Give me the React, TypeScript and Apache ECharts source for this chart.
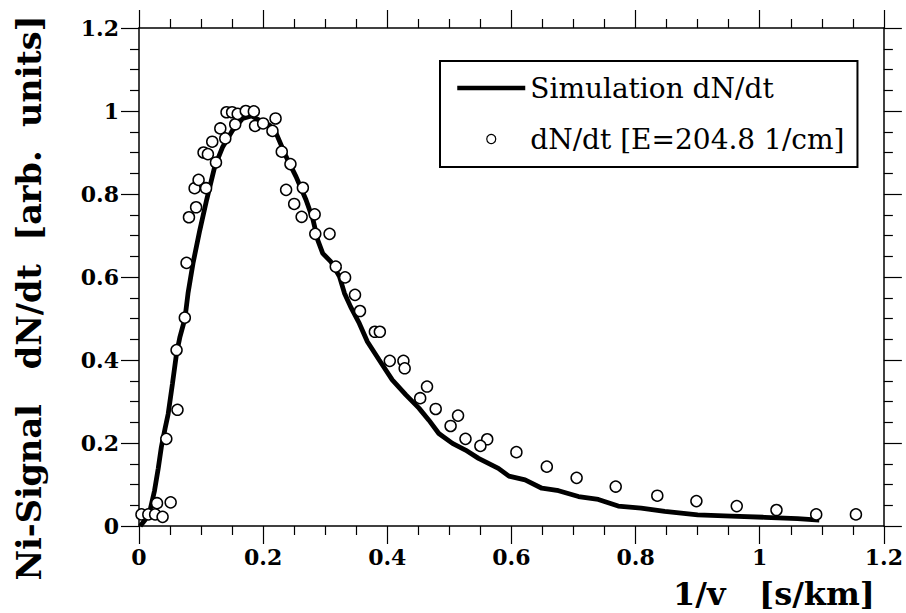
import React, { useEffect, useRef } from "react";
import * as echarts from "echarts";

// Simulation curve (1/v [s/km], dN/dt)
const simX = [0.002, 0.01, 0.018, 0.025, 0.031, 0.036, 0.042, 0.047, 0.054, 0.0605, 0.066, 0.074, 0.079, 0.087, 0.098, 0.109, 0.122, 0.135, 0.151, 0.167, 0.181, 0.194, 0.21, 0.221, 0.237, 0.253, 0.269, 0.28, 0.288, 0.296, 0.309, 0.323, 0.331, 0.341, 0.355, 0.368, 0.387, 0.408, 0.43, 0.451, 0.467, 0.483, 0.505, 0.526, 0.547, 0.579, 0.596, 0.622, 0.649, 0.676, 0.708, 0.74, 0.772, 0.809, 0.847, 0.9, 0.954, 1.008, 1.061, 1.096];
const simY = [0, 0.015, 0.039, 0.085, 0.139, 0.19, 0.235, 0.27, 0.344, 0.416, 0.456, 0.5, 0.561, 0.633, 0.713, 0.786, 0.866, 0.914, 0.954, 0.982, 0.988, 0.978, 0.966, 0.946, 0.89, 0.842, 0.786, 0.74, 0.689, 0.657, 0.637, 0.601, 0.561, 0.528, 0.488, 0.444, 0.4, 0.352, 0.316, 0.284, 0.255, 0.223, 0.199, 0.183, 0.163, 0.139, 0.12, 0.111, 0.091, 0.085, 0.071, 0.064, 0.048, 0.043, 0.035, 0.027, 0.024, 0.021, 0.018, 0.014];

// Measured dN/dt [E=204.8 1/cm]
const measX = [0.004, 0.015, 0.026, 0.038, 0.029, 0.051, 0.044, 0.062, 0.0605, 0.0738, 0.0766, 0.0805, 0.092, 0.0896, 0.096, 0.108, 0.104, 0.111, 0.124, 0.118, 0.139, 0.131, 0.155, 0.141, 0.15, 0.159, 0.172, 0.185, 0.187, 0.2, 0.22, 0.215, 0.23, 0.244, 0.237, 0.25, 0.264, 0.262, 0.283, 0.284, 0.307, 0.317, 0.332, 0.348, 0.356, 0.38, 0.388, 0.404, 0.426, 0.428, 0.464, 0.453, 0.478, 0.514, 0.502, 0.526, 0.561, 0.55, 0.608, 0.657, 0.705, 0.768, 0.835, 0.898, 0.963, 1.027, 1.091, 1.155];
const measY = [0.028, 0.028, 0.028, 0.022, 0.055, 0.057, 0.21, 0.28, 0.424, 0.502, 0.634, 0.744, 0.768, 0.814, 0.834, 0.814, 0.9, 0.896, 0.876, 0.926, 0.934, 0.958, 0.968, 0.997, 0.997, 0.993, 1.0, 0.999, 0.964, 0.97, 0.982, 0.952, 0.902, 0.872, 0.81, 0.776, 0.815, 0.745, 0.751, 0.704, 0.704, 0.625, 0.599, 0.557, 0.518, 0.468, 0.468, 0.398, 0.398, 0.38, 0.336, 0.308, 0.282, 0.266, 0.241, 0.21, 0.209, 0.193, 0.178, 0.143, 0.116, 0.095, 0.073, 0.06, 0.048, 0.0385, 0.028, 0.028];

const seriesNames = ["Simulation dN/dt", "dN/dt [E=204.8 1/cm]"];
const xTitle = "1/v   [s/km]";
const yTitle = "Ni-Signal   dN/dt  [arb.  units]";

const SERIF = "'DejaVu Serif', serif";

export default function App() {
  const ref = useRef<HTMLDivElement>(null);
  useEffect(() => {
    if (!ref.current) return;
    const chart = echarts.init(ref.current, null, { renderer: "svg" });
    const axisCommon = {
      type: "value",
      min: 0,
      max: 1.2,
      interval: 0.2,
      splitLine: { show: false },
      axisLine: { show: true, onZero: false, lineStyle: { color: "#000", width: 1.5 } },
      axisTick: { show: true, inside: false, length: 18, lineStyle: { color: "#000", width: 1.2 } },
      minorTick: { show: true, splitNumber: 4, length: 9, lineStyle: { color: "#000", width: 1.2 } },
    };
    const labelStyle = {
      color: "#000",
      fontFamily: SERIF,
      fontWeight: "bold",
      fontSize: 22,
    };
    chart.setOption({
      animation: false,
      backgroundColor: "#fff",
      grid: { left: 139, right: 19.5, top: 28, bottom: 87 },
      xAxis: [
        { ...axisCommon, position: "bottom", axisLabel: { ...labelStyle, margin: 20 } },
        { ...axisCommon, position: "top", axisLabel: { show: false } },
      ],
      yAxis: [
        { ...axisCommon, position: "left", axisLabel: { ...labelStyle, margin: 20 } },
        { ...axisCommon, position: "right", axisLabel: { show: false } },
      ],
      legend: {
        orient: "vertical",
        left: 440,
        top: 61,
        padding: [13, 13, 14, 15],
        itemGap: 23,
        itemWidth: 68,
        itemHeight: 9,
        borderColor: "#000",
        borderWidth: 2,
        backgroundColor: "#fff",
        textStyle: { fontFamily: SERIF, fontSize: 28, color: "#000", lineHeight: 28 },
        data: [
          {
            name: seriesNames[0],
            itemStyle: { color: "rgba(0,0,0,0)", borderWidth: 0, opacity: 0 },
            lineStyle: { color: "#000", width: 4.5, opacity: 1 },
          },
          {
            name: seriesNames[1],
            itemStyle: { color: "#fff", borderColor: "#000", borderWidth: 1.2, opacity: 1 },
          },
        ],
      },
      graphic: [
        {
          type: "text",
          x: 29,
          y: 298,
          rotation: Math.PI / 2,
          style: {
            text: yTitle,
            fontFamily: SERIF,
            fontWeight: "bold",
            fontSize: 33.5,
            fill: "#000",
            align: "center",
            verticalAlign: "middle",
          },
        },
        {
          type: "text",
          x: 875,
          y: 594,
          style: {
            text: xTitle,
            fontFamily: SERIF,
            fontWeight: "bold",
            fontSize: 32,
            fill: "#000",
            align: "right",
            verticalAlign: "middle",
          },
        },
      ],
      series: [
        {
          name: seriesNames[0],
          type: "line",
          xAxisIndex: 0,
          yAxisIndex: 0,
          data: simX.map((x, i) => [x, simY[i]]),
          symbol: "none",
          lineStyle: { color: "#000", width: 4.8 },
          itemStyle: { color: "#000" },
          z: 2,
        },
        {
          name: seriesNames[1],
          type: "scatter",
          xAxisIndex: 0,
          yAxisIndex: 0,
          data: measX.map((x, i) => [x, measY[i]]),
          symbol: "circle",
          symbolSize: 11,
          itemStyle: { color: "#fff", borderColor: "#000", borderWidth: 1.5, opacity: 1 },
          z: 3,
        },
      ],
    });
    return () => chart.dispose();
  }, []);
  return (
    <div
      ref={ref}
      style={{ position: "fixed", left: 0, top: 0, width: 906, height: 613, background: "#fff" }}
    />
  );
}
